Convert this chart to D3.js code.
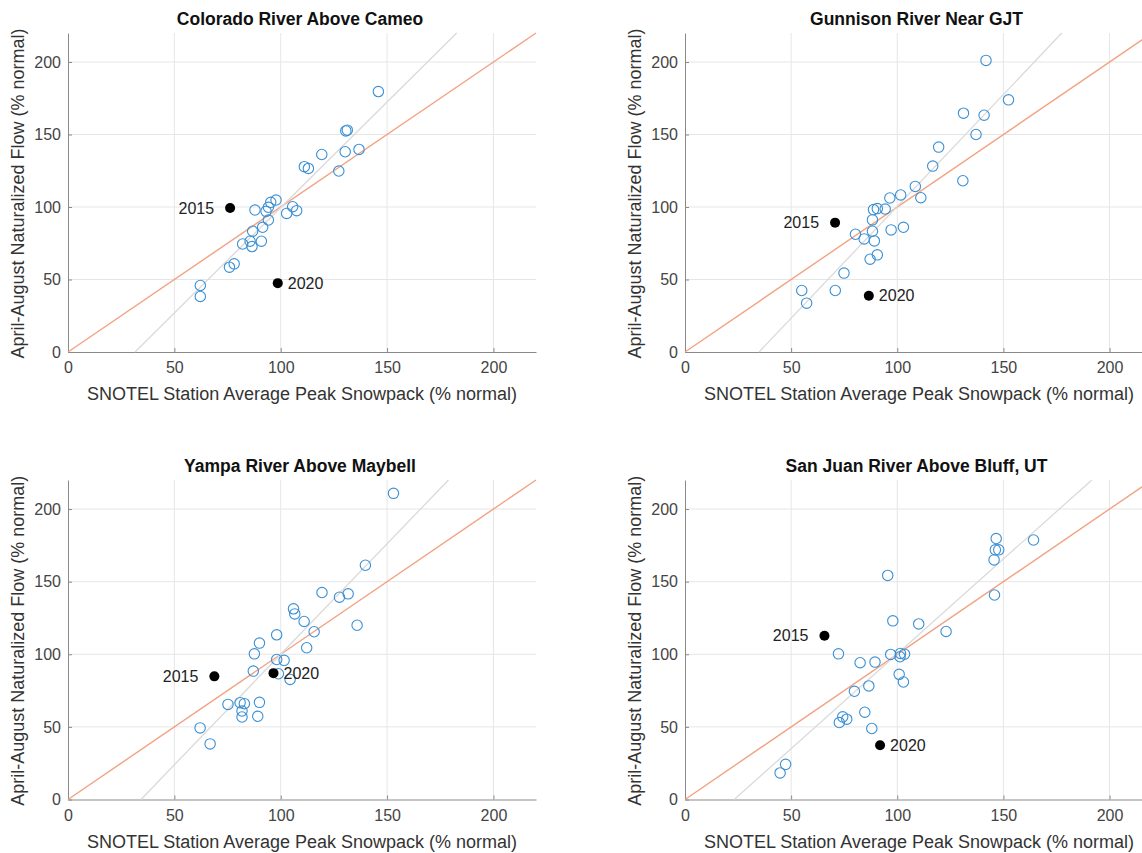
<!DOCTYPE html>
<html lang="en">
<head>
    <meta charset="UTF-8">
    <title>Snowpack vs Flow</title>
    <script src="https://d3js.org/d3.v7.min.js"></script>
    <style>
        body { margin: 0; background: #fff; }
        text { font-family: "Liberation Sans", Arial, sans-serif; fill: #333; }
        .tick text { font-size: 16px; fill: #444; }
        .title { font-size: 17.5px; font-weight: bold; fill: #111; }
        .axlabel { font-size: 18px; fill: #333; }
        .yr { font-size: 16px; fill: #222; }
    </style>
</head>
<body>
    <svg width="1142" height="853"></svg>

    <script>
        // panel titles
        const titles = [
            "Colorado River Above Cameo",
            "Gunnison River Near GJT",
            "Yampa River Above Maybell",
            "San Juan River Above Bluff, UT"
        ];

        // ticks shared by every panel
        const tickValues = [0, 50, 100, 150, 200];

        // Colorado River Above Cameo
        const coloradoSnow = [145.9, 130.6, 131.3, 119.3, 130.3, 136.8, 111.1, 113.0, 127.3, 97.8, 95.3, 94.2, 93.1, 87.9,
            105.6, 107.5, 102.8, 94.2, 91.5, 86.8, 82.1, 85.6, 86.5, 90.9, 75.9, 78.1, 62.2, 62.2];
        const coloradoFlow = [179.6, 152.5, 153.0, 136.2, 138.1, 139.7, 127.8, 126.6, 124.8, 104.8, 103.2, 99.8, 97.0, 97.9,
            100.2, 97.5, 95.6, 91.0, 86.0, 83.3, 74.5, 76.4, 72.7, 76.4, 58.5, 60.8, 45.9, 38.3];

        // Gunnison River Near GJT
        const gunnisonSnow = [141.8, 152.4, 131.2, 140.9, 137.1, 119.5, 116.7, 130.9, 108.5, 111.1, 101.6, 96.5, 94.3, 90.6,
            88.8, 88.3, 97.1, 102.9, 88.3, 80.3, 84.4, 89.2, 90.6, 87.2, 74.9, 55.0, 70.8, 57.3];
        const gunnisonFlow = [201.1, 173.9, 164.7, 163.3, 150.0, 141.3, 128.2, 118.1, 114.2, 106.4, 108.3, 106.2, 98.6, 98.9,
            98.2, 91.1, 84.2, 86.0, 83.3, 81.2, 78.0, 76.6, 67.0, 64.0, 54.4, 42.4, 42.4, 33.7];

        // Yampa River Above Maybell
        const yampaSnow = [153.0, 139.8, 119.4, 127.6, 131.7, 106.0, 106.6, 111.0, 135.9, 115.7, 98.1, 90.0, 87.6, 112.2,
            98.1, 101.6, 87.1, 98.9, 104.4, 75.2, 80.9, 82.9, 90.0, 81.8, 81.8, 89.2, 62.1, 66.8];
        const yampaFlow = [210.8, 161.3, 142.5, 139.3, 141.6, 131.3, 127.8, 122.6, 120.0, 115.5, 113.4, 107.7, 100.3, 104.5,
            96.4, 95.8, 88.4, 86.6, 82.7, 65.5, 66.7, 66.0, 66.9, 60.9, 56.8, 57.3, 49.3, 38.3];

        // San Juan River Above Bluff, UT
        const sanJuanSnow = [164.2, 146.6, 146.2, 147.8, 145.6, 145.8, 95.5, 97.9, 110.1, 123.0, 72.3, 96.9, 101.5, 103.4,
            101.3, 82.5, 89.5, 100.9, 102.9, 79.8, 86.6, 84.7, 74.3, 76.2, 72.7, 88.0, 47.4, 44.8];
        const sanJuanFlow = [178.7, 179.7, 171.9, 171.9, 165.0, 140.8, 154.3, 123.0, 120.9, 115.7, 100.3, 99.9, 100.6, 100.1,
            98.3, 94.2, 94.6, 86.2, 80.9, 74.5, 78.2, 60.1, 56.9, 55.3, 53.0, 48.9, 24.2, 18.3];

        // highlighted years: [snow, flow] for 2015 and 2020
        const years = ["2015", "2020"];
        const year2015 = [[76.2, 99.3], [70.7, 89.2], [68.8, 84.8], [65.7, 112.7]];
        const year2020 = [[98.6, 47.5], [86.6, 38.8], [96.6, 87.0], [91.9, 37.3]];

        // fitted regression line: flow = slope * (snow - xIntercept)
        const fitSlope = [1.455, 1.543, 1.522, 1.306];
        const fitXIntercept = [31.5, 34.9, 34.3, 23.2];

        const snowSeries = [coloradoSnow, gunnisonSnow, yampaSnow, sanJuanSnow];
        const flowSeries = [coloradoFlow, gunnisonFlow, yampaFlow, sanJuanFlow];

        const svg = d3.select("svg");

        // plot box of each panel in page pixels
        const boxes = [
            { left: 68, right: 536, top: 33, bottom: 352 },
            { left: 685, right: 1152, top: 33, bottom: 352 },
            { left: 68, right: 536, top: 480, bottom: 799.5 },
            { left: 685, right: 1152, top: 480, bottom: 799.5 }
        ];

        boxes.forEach((b, i) => {
            const x = d3.scaleLinear().domain([0, 220]).range([b.left, b.right]);
            const y = d3.scaleLinear().domain([0, 220]).range([b.bottom, b.top]);
            const g = svg.append("g");

            // grid
            g.append("g").selectAll("line").data(tickValues.slice(1)).enter().append("line")
                .attr("x1", d => x(d)).attr("x2", d => x(d))
                .attr("y1", b.top).attr("y2", b.bottom)
                .attr("stroke", "#e6e6e6").attr("stroke-width", 1);
            g.append("g").selectAll("line").data(tickValues.slice(1)).enter().append("line")
                .attr("x1", b.left).attr("x2", b.right)
                .attr("y1", d => y(d)).attr("y2", d => y(d))
                .attr("stroke", "#e6e6e6").attr("stroke-width", 1);

            // axes
            const xAxis = g.append("g")
                .attr("transform", `translate(0,${b.bottom})`)
                .call(d3.axisBottom(x).tickValues(tickValues).tickSizeInner(-4).tickSizeOuter(0).tickPadding(10));
            const yAxis = g.append("g")
                .attr("transform", `translate(${b.left},0)`)
                .call(d3.axisLeft(y).tickValues(tickValues).tickSizeInner(-4).tickSizeOuter(0).tickPadding(7));
            [xAxis, yAxis].forEach(a => {
                a.select(".domain").attr("stroke", "#8a8a8a");
                a.selectAll(".tick line").attr("stroke", "#8a8a8a");
                a.attr("font-size", null).attr("font-family", null);
            });

            // 1:1 line
            g.append("line")
                .attr("x1", x(0)).attr("y1", y(0))
                .attr("x2", x(220)).attr("y2", y(220))
                .attr("stroke", "#f2a283").attr("stroke-width", 1.4);

            // regression line
            const x0 = fitXIntercept[i];
            const x1 = x0 + 220 / fitSlope[i];
            g.append("line")
                .attr("x1", x(x0)).attr("y1", y(0))
                .attr("x2", x(x1)).attr("y2", y(220))
                .attr("stroke", "#dadada").attr("stroke-width", 1.3);

            // scatter
            const pts = d3.zip(snowSeries[i], flowSeries[i]);
            g.append("g").selectAll("circle").data(pts).enter().append("circle")
                .attr("cx", d => x(d[0])).attr("cy", d => y(d[1]))
                .attr("r", 5.2)
                .attr("fill", "none")
                .attr("stroke", "#3b90d4")
                .attr("stroke-width", 1.1);

            // highlighted years
            const hl = [year2015[i], year2020[i]];
            g.append("g").selectAll("circle").data(hl).enter().append("circle")
                .attr("cx", d => x(d[0])).attr("cy", d => y(d[1]))
                .attr("r", 5).attr("fill", "#000");
            g.append("g").selectAll("text").data(hl).enter().append("text")
                .attr("class", "yr")
                .attr("x", (d, k) => k === 0 ? x(d[0]) - 16 : x(d[0]) + 10)
                .attr("y", d => y(d[1]))
                .attr("dy", "0.35em")
                .attr("text-anchor", (d, k) => k === 0 ? "end" : "start")
                .text((d, k) => years[k]);

            // title
            g.append("text")
                .attr("class", "title")
                .attr("x", (b.left + b.right) / 2 - 2)
                .attr("y", b.top - 8)
                .attr("text-anchor", "middle")
                .text(titles[i]);

            // axis labels
            g.append("text")
                .attr("class", "axlabel")
                .attr("x", b.left + 234)
                .attr("y", b.bottom + 48)
                .attr("text-anchor", "middle")
                .text("SNOTEL Station Average Peak Snowpack (% normal)");
            g.append("text")
                .attr("class", "axlabel")
                .attr("transform", `translate(${b.left - 44},${(b.top + b.bottom) / 2 + 1}) rotate(-90)`)
                .attr("text-anchor", "middle")
                .text("April-August Naturalized Flow (% normal)");
        });
    </script>
</body>
</html>
